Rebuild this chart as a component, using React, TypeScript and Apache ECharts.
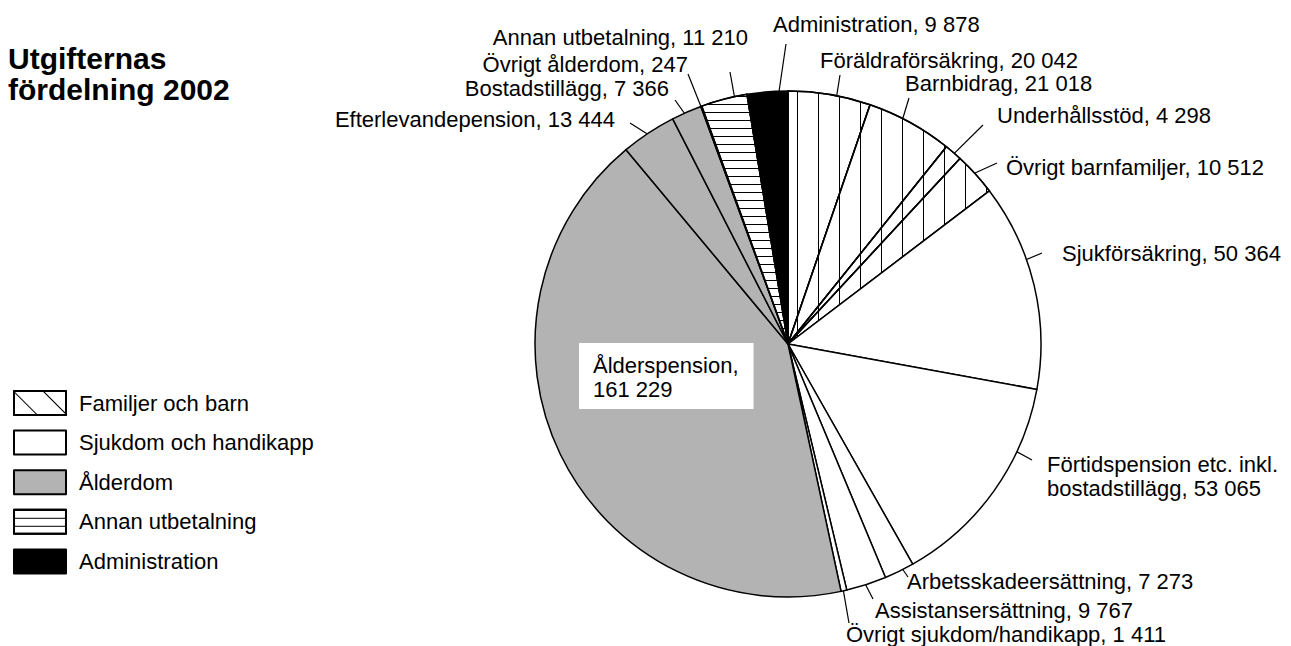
import React, { useEffect, useRef } from 'react';
import * as echarts from 'echarts';

// ---------- data ----------
const categories = ['Familjer och barn', 'Sjukdom och handikapp', 'Ålderdom', 'Annan utbetalning', 'Administration'];

const itemNames = [
  'Föräldraförsäkring',
  'Barnbidrag',
  'Underhållsstöd',
  'Övrigt barnfamiljer',
  'Sjukförsäkring',
  'Förtidspension etc. inkl.\nbostadstillägg',
  'Arbetsskadeersättning',
  'Assistansersättning',
  'Övrigt sjukdom/handikapp',
  'Ålderspension',
  'Efterlevandepension',
  'Bostadstillägg',
  'Övrigt ålderdom',
  'Annan utbetalning',
  'Administration',
];
const itemValues = [20042, 21018, 4298, 10512, 50364, 53065, 7273, 9767, 1411, 161229, 13444, 7366, 247, 11210, 9878];
const itemCategory = [0, 0, 0, 0, 1, 1, 1, 1, 1, 2, 2, 2, 2, 3, 4];

const titleText = 'Utgifternas\nfördelning 2002';

// ---------- layout / styles ----------
const CX = 788;
const CY = 344;
const R = 253;
const FONT = 'Liberation Sans';

// label anchor and pointer layout per slice: [x, y, align, verticalAlign, ptrT, ptrR, endX, endY]
const labelPlacement: any[] = [
  [820, 60.4, 'left', 'middle', 0.6, 0.89, 840, 75],
  [905, 83, 'left', 'middle', 0.45, 0.92, 909, 98],
  [997, 115, 'left', 'middle', 0.55, 0.98, 983, 125],
  [1006, 167.4, 'left', 'middle', 0.32, 0.925, 997, 163],
  [1062, 253.4, 'left', 'middle', 0.38, 0.9, 1042, 253],
  [1047, 452, 'left', 'top', 0.29, 0.92, 1032, 460],
  [907, 581, 'left', 'middle', 0.47, 0.92, 908, 577],
  [875, 610.5, 'left', 'middle', 0.61, 0.92, 873, 599],
  [846, 634.5, 'left', 'middle', 0.5, 0.96, 849, 623],
  [579, 343, 'left', 'top', 0, 0, 0, 0],
  [615, 119.4, 'right', 'middle', 0.62, 0.93, 630, 123],
  [669, 88.5, 'right', 'middle', 0.58, 0.91, 675, 100],
  [688, 64.5, 'right', 'middle', 0.5, 0.95, 688, 74],
  [748, 37.4, 'right', 'middle', 0.7, 0.875, 730, 72],
  [773, 24.4, 'left', 'middle', 0.5, 0.8, 786, 44],
];
const boxedLabel = 9;

const vertDecal = { symbol: 'rect', symbolSize: 1, dashArrayX: [1, 0], dashArrayY: [1, 20], rotation: Math.PI / 2, color: '#000' };
const diagDecal = { symbol: 'rect', symbolSize: 1, dashArrayX: [1, 0], dashArrayY: [1, 20], rotation: Math.PI / 4, color: '#000' };
const horizDecal = { symbol: 'rect', symbolSize: 1, dashArrayX: [1, 0], dashArrayY: [1, 7], rotation: 0, color: '#000' };

const categoryStyle: any[] = [
  { color: '#ffffff', decal: vertDecal },
  { color: '#ffffff' },
  { color: '#b3b3b3' },
  { color: '#ffffff', decal: horizDecal },
  { color: '#000000' },
];
const legendStyle: any[] = [
  { color: '#ffffff', decal: diagDecal },
  { color: '#ffffff' },
  { color: '#b3b3b3' },
  { color: '#ffffff', decal: horizDecal },
  { color: '#000000' },
];

function fmt(n: number) {
  return String(n).replace(/\B(?=(\d{3})+(?!\d))/g, ' ');
}

export default function App() {
  const ref = useRef<HTMLDivElement>(null);
  useEffect(() => {
    const chart = echarts.init(ref.current!, null, { renderer: 'svg' });

    const total = itemValues.reduce((a, b) => a + b, 0);
    const starts: number[] = [];
    let acc = 0;
    itemValues.forEach((v) => {
      starts.push((acc / total) * 360);
      acc += v;
    });

    const pieData = itemNames.map((name, i) => ({
      name,
      value: itemValues[i],
      itemStyle: { ...categoryStyle[itemCategory[i]], borderColor: '#000', borderWidth: 1.5 },
      label:
        i === boxedLabel
          ? { backgroundColor: '#fff', padding: [10, 15, 8, 14] }
          : {},
      labelLine: { show: i !== boxedLabel },
    }));

    const option: any = {
      animation: false,
      backgroundColor: '#fff',
      title: {
        text: titleText,
        left: 8,
        top: 43,
        padding: 0,
        textStyle: { fontFamily: FONT, fontSize: 30, fontWeight: 'bold', lineHeight: 31, color: '#000' },
      },
      legend: {
        orient: 'vertical',
        left: 13,
        top: 390,
        padding: 0,
        itemWidth: 52,
        itemHeight: 24,
        itemGap: 13.6,
        icon: 'rect',
        selectedMode: false,
        data: categories,
        textStyle: { fontFamily: FONT, fontSize: 22, color: '#000', padding: [0, 0, 0, 8] },
      },
      series: [
        {
          type: 'pie',
          name: 'legend',
          silent: true,
          center: [-500, -500],
          radius: 1,
          label: { show: false },
          labelLine: { show: false },
          data: categories.map((c, k) => ({
            name: c,
            value: 1,
            itemStyle: { ...legendStyle[k], borderColor: '#000', borderWidth: 1 },
          })),
        },
        {
          type: 'pie',
          name: 'Utgifter',
          center: [CX, CY],
          radius: R,
          startAngle: 90,
          clockwise: true,
          silent: true,
          avoidLabelOverlap: false,
          label: {
            show: true,
            position: 'outside',
            fontFamily: FONT,
            fontSize: 22,
            lineHeight: 24,
            color: '#000',
            formatter: (p: any) =>
              p.dataIndex === boxedLabel ? `${p.name},\n${fmt(p.value)}` : `${p.name}, ${fmt(p.value)}`,
          },
          labelLine: { show: true, length: 10, length2: 0, lineStyle: { color: '#000', width: 1.2 } },
          labelLayout: (params: any) => {
            const i = params.dataIndex;
            const L = labelPlacement[i];
            if (!L) return {};
            const out: any = { x: L[0], y: L[1], align: L[2], verticalAlign: L[3] };
            if (i !== boxedLabel) {
              const a0 = starts[i];
              const span = (itemValues[i] / total) * 360;
              const ang = ((a0 + span * L[4]) * Math.PI) / 180;
              const rr = R * L[5];
              const sx = CX + rr * Math.sin(ang);
              const sy = CY - rr * Math.cos(ang);
              out.labelLinePoints = [
                [sx, sy],
                [L[6], L[7]],
              ];
            }
            return out;
          },
          data: pieData,
        },
      ],
    };

    chart.setOption(option);
    return () => chart.dispose();
  }, []);
  return (
    <div
      ref={ref}
      style={{ position: 'absolute', left: 0, top: 0, width: 1291, height: 646, background: '#fff' }}
    />
  );
}
